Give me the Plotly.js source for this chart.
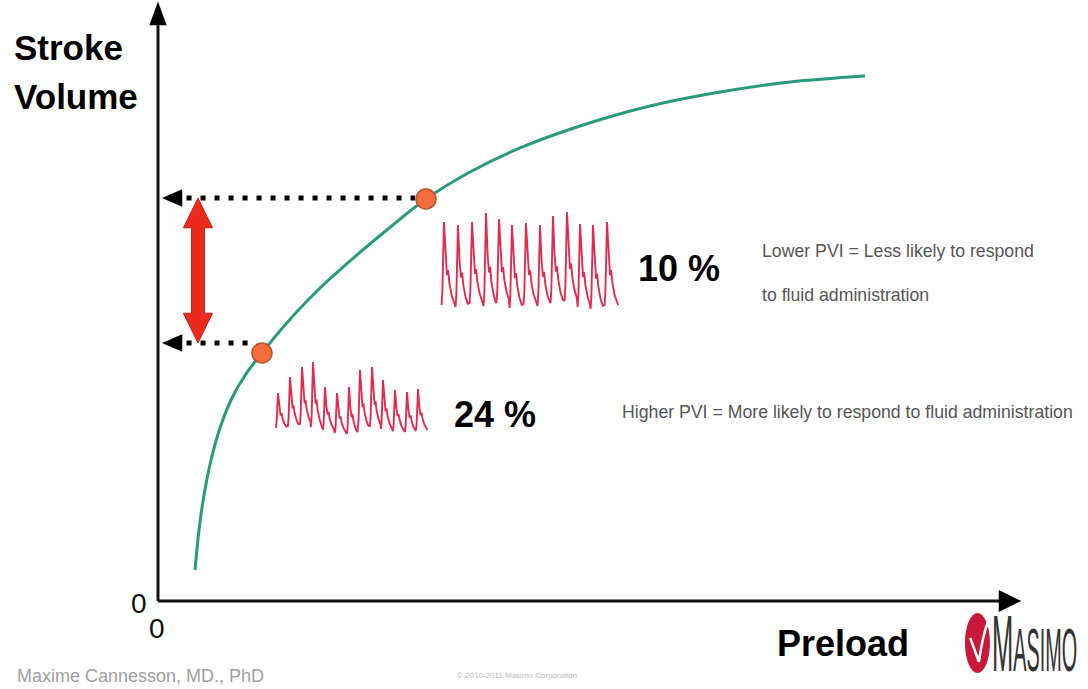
<!DOCTYPE html>
<html>
<head>
<meta charset="utf-8">
<script src="https://cdn.plot.ly/plotly-3.0.1.min.js"></script>
<style>
  html, body { margin: 0; padding: 0; background: #fff; }
  #chart { width: 1088px; height: 689px; }
</style>
</head>
<body>
<div id="chart"></div>
<script>
// Frank-Starling curve: stroke volume against preload (arbitrary units, 0-100)
const curveX = [4.28, 4.74, 5.32, 6.13, 7.17, 8.55, 10.17, 12.02, 14.68, 18.15, 22.20, 26.59, 30.98, 36.07, 41.85, 48.79, 56.88, 64.97, 73.06, 81.73];
const curveY = [5.20, 11.91, 17.79, 23.66, 29.03, 34.06, 38.09, 41.61, 46.31, 51.68, 57.05, 62.42, 67.45, 71.98, 76.01, 79.70, 83.05, 85.40, 87.08, 88.09];

// Two operating points on the curve (steep part and flat part)
const pointX = [12.02, 30.98];
const pointY = [41.61, 67.45];

// Stroke volume levels read back onto the vertical axis
const levelY = [43.29, 67.62];

// Pleth waveform, flat part of the curve (PVI 10 %): beat peaks and troughs
const upperPeakX = [33.06, 34.68, 36.30, 37.92, 39.42, 40.92, 42.54, 44.16, 45.66, 47.28, 48.79, 50.29, 51.91];
const upperPeakY = [63.59, 63.09, 63.59, 65.10, 64.09, 63.09, 63.42, 63.09, 64.60, 65.27, 63.26, 63.09, 63.59];
const upperTroughY = [49.66, 49.33, 50.00, 49.50, 50.17, 49.16, 49.83, 49.50, 50.00, 50.34, 49.33, 48.99, 49.66];

// Pleth waveform, steep part of the curve (PVI 24 %)
const lowerPeakX = [13.87, 15.26, 16.65, 17.92, 19.31, 20.69, 22.08, 23.35, 24.74, 26.01, 27.40, 28.79, 30.06];
const lowerPeakY = [34.90, 37.58, 39.26, 40.10, 35.91, 34.90, 35.91, 38.76, 39.26, 37.08, 35.40, 35.07, 35.57];
const lowerTroughY = [29.03, 29.36, 29.70, 29.19, 28.69, 28.19, 28.02, 29.03, 29.36, 28.86, 28.52, 28.36, 28.69];

// Shape of one pulse: phase within the beat and level between trough (0) and peak (1)
const beatPhase = [0, 0.06, 0.18, 0.30, 0.40, 0.48, 0.58, 0.74, 0.90, 1.0];
const beatLevel = [0, 0.15, 1.0, 0.55, 0.36, 0.42, 0.26, 0.12, 0.04, 0];

const pviLabels = ['10 %', '24 %'];

function pulseWave(peakX, peakY, troughY) {
  const n = peakX.length;
  const period = (peakX[n - 1] - peakX[0]) / (n - 1);
  const peakPhase = beatPhase[beatLevel.indexOf(1.0)];
  const xs = [], ys = [];
  for (let i = 0; i < n; i++) {
    const onset = peakX[i] - peakPhase * period;
    const last = (i === n - 1) ? beatPhase.length : beatPhase.length - 1;
    for (let j = 0; j < last; j++) {
      xs.push(onset + beatPhase[j] * period);
      ys.push(troughY[i] + beatLevel[j] * (peakY[i] - troughY[i]));
    }
  }
  return { x: xs, y: ys };
}

const upperWave = pulseWave(upperPeakX, upperPeakY, upperTroughY);
const lowerWave = pulseWave(lowerPeakX, lowerPeakY, lowerTroughY);

const waveColor = '#e02c4e';
const font = 'Liberation Sans, Arial, sans-serif';

const traces = [
  { x: curveX, y: curveY, mode: 'lines', line: { color: '#2b9a7c', width: 3, shape: 'spline', smoothing: 1 }, hoverinfo: 'skip' },
  { x: upperWave.x, y: upperWave.y, mode: 'lines', line: { color: waveColor, width: 1.9 }, hoverinfo: 'skip' },
  { x: lowerWave.x, y: lowerWave.y, mode: 'lines', line: { color: waveColor, width: 1.9 }, hoverinfo: 'skip' },
  { x: pointX, y: pointY, mode: 'markers', marker: { size: 20, color: '#f26c3c', line: { color: '#b9522c', width: 1.5 } }, hoverinfo: 'skip' }
];

// Geometry of the arrow heads (data units)
const axisTop = 96.6, xAxisEnd = 98.3;
const headLen = 2.8, headHalf = 1.45;
const dblX = 4.62, dblHead = 5.0, dblHeadHalf = 1.68, dblShaft = 0.75;

function leftHead(y) {
  return { type: 'path', path: `M 0.46,${y} L ${headLen},${y + headHalf} L ${headLen},${y - headHalf} Z`,
           fillcolor: '#000', line: { width: 0 } };
}

const svHigh = levelY[1], svLow = levelY[0];
const dblPath = `M ${dblX},${svHigh} L ${dblX + dblHeadHalf},${svHigh - dblHead} L ${dblX + dblShaft},${svHigh - dblHead} ` +
  `L ${dblX + dblShaft},${svLow + dblHead} L ${dblX + dblHeadHalf},${svLow + dblHead} L ${dblX},${svLow} ` +
  `L ${dblX - dblHeadHalf},${svLow + dblHead} L ${dblX - dblShaft},${svLow + dblHead} L ${dblX - dblShaft},${svHigh - dblHead} ` +
  `L ${dblX - dblHeadHalf},${svHigh - dblHead} Z`;

const shapes = [
  // axes with arrow heads
  { type: 'line', x0: 0, y0: 0, x1: 0, y1: axisTop, line: { color: '#111', width: 3 } },
  { type: 'line', x0: 0, y0: 0, x1: xAxisEnd, y1: 0, line: { color: '#111', width: 3 } },
  { type: 'path', path: 'M 0,100.6 L 1.0,96.6 L -1.0,96.6 Z', fillcolor: '#000', line: { width: 0 } },
  { type: 'path', path: 'M 99.8,0 L 97.2,1.85 L 97.2,-1.85 Z', fillcolor: '#000', line: { width: 0 } },
  // dotted read-back lines to the stroke volume axis
  { type: 'line', x0: 3.3, y0: levelY[1], x1: 29.7, y1: levelY[1], line: { color: '#000', width: 5, dash: '5px,9px' } },
  { type: 'line', x0: 3.3, y0: levelY[0], x1: 11.2, y1: levelY[0], line: { color: '#000', width: 5, dash: '5px,9px' } },
  leftHead(levelY[1]),
  leftHead(levelY[0]),
  // stroke volume difference
  { type: 'path', path: dblPath, fillcolor: '#ee2a1c', line: { color: '#b8261a', width: 1 } },
  // logo mark
  { type: 'circle', x0: 93.29, x1: 96.18, y0: -12.08, y1: -2.01, fillcolor: '#c8193a', line: { width: 0 } },
  { type: 'path', path: 'M 93.9,-6.2 Q 94.5,-8.6 94.9,-10.2 Q 95.3,-6.0 96.0,-3.2', line: { color: '#fff', width: 2.5 } }
];

function txt(text, x, y, size, opts) {
  return Object.assign({ text: text, x: x, y: y, xref: 'x', yref: 'y', showarrow: false,
    xanchor: 'left', yanchor: 'middle', font: { family: font, size: size, color: '#000' } }, opts || {});
}

const noteFont = { family: font, size: 17.7, color: '#555' };

const annotations = [
  txt('<b>Stroke</b>', -16.88, 92.95, 35),
  txt('<b>Volume</b>', -16.88, 84.73, 35),
  txt('0', -2.20, -0.34, 28, { xanchor: 'center', font: { family: font, size: 28, color: '#111' } }),
  txt('0', -0.12, -4.53, 28, { xanchor: 'center', font: { family: font, size: 28, color: '#111' } }),
  txt('<b>' + pviLabels[0] + '</b>', 55.26, 55.87, 36),
  txt('<b>' + pviLabels[1] + '</b>', 33.99, 31.21, 36),
  txt('Lower PVI = Less likely to respond', 69.60, 58.72, 17.7, { font: noteFont }),
  txt('to fluid administration', 69.60, 51.34, 17.7, { font: noteFont }),
  txt('Higher PVI = More likely to respond to fluid administration', 53.41, 31.71, 17.7, { font: noteFont }),
  txt('<b>Preload</b>', 71.33, -7.21, 36),
  txt('Maxime Cannesson, MD., PhD', -16.53, -12.58, 18, { font: { family: font, size: 18, color: '#a0a0a0' } }),
  txt('© 2010-2011 Masimo Corporation', 34.34, -12.58, 8, { font: { family: font, size: 8, color: '#bbb' } }),
  txt('M<span style="font-size:62px">ASIMO</span>', 96.18, -7.2, 80,
      { font: { family: font, size: 80, color: '#333' } })
];

const layout = {
  width: 1088, height: 689,
  margin: { l: 0, r: 0, t: 0, b: 0 },
  paper_bgcolor: '#fff', plot_bgcolor: '#fff',
  showlegend: false,
  xaxis: { range: [-18.266, 107.514], visible: false, fixedrange: true },
  yaxis: { range: [-14.765, 100.839], visible: false, fixedrange: true },
  shapes: shapes,
  annotations: annotations
};

Plotly.newPlot('chart', traces, layout, { staticPlot: true, displayModeBar: false }).then(function (gd) {
  // the company word mark is set in tall, tightly condensed letters
  gd.querySelectorAll('.annotation-text').forEach(function (t) {
    if (t.textContent.indexOf('ASIMO') >= 0) {
      t.style.transformBox = 'fill-box';
      t.style.transformOrigin = 'left center';
      t.style.transform = 'scaleX(0.32)';
    }
  });
});
</script>
</body>
</html>
